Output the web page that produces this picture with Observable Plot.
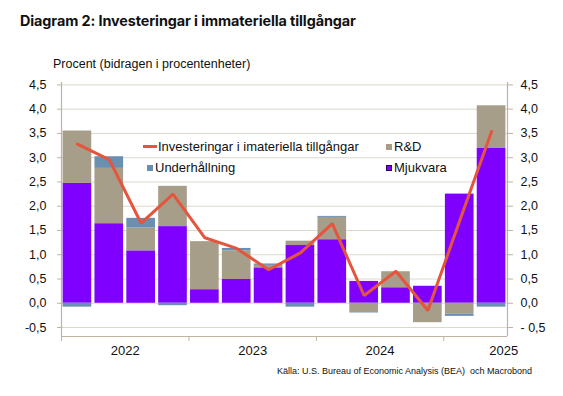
<!DOCTYPE html>
<html>
<head>
<meta charset="utf-8">
<script src="https://cdn.jsdelivr.net/npm/d3@7"></script>
<script src="https://cdn.jsdelivr.net/npm/@observablehq/plot@0.6"></script>
<style>
  body { margin: 0; background: #fff; }
  #wrap { position: relative; width: 563px; height: 396px; font-family: "Liberation Sans", Arial, sans-serif; color: #111; }
  #title { position: absolute; left: 20px; top: 12px; font: bold 14.4px "Inter", "Liberation Sans", sans-serif; letter-spacing: -0.1px; white-space: nowrap; }
  #sub { position: absolute; left: 53px; top: 57px; font-size: 12.5px; white-space: nowrap; }
  #chart { position: absolute; left: 0; top: 74px; }
  #caption { position: absolute; left: 277px; top: 366px; font-size: 9px; white-space: pre; }
  .lg { position: absolute; font-size: 13px; white-space: nowrap; line-height: 14px; }
  .sw { display: inline-block; width: 6px; height: 6px; margin-right: 2px; vertical-align: 1px; box-sizing: border-box; }
  .ln { display: inline-block; width: 14px; height: 3px; margin-right: 1px; vertical-align: 3px; }
</style>
</head>
<body>
<div id="wrap">
  <div id="title">Diagram 2: Investeringar i immateriella tillgångar</div>
  <div id="sub">Procent (bidragen i procentenheter)</div>
  <div id="chart"></div>
  <div id="legend"></div>
  <div id="caption">Källa: U.S. Bureau of Economic Analysis (BEA)  och Macrobond</div>
</div>
<script>
// Quarters 2022 Q1 – 2025 Q2 (start of quarter as fractional year)
const quarters = [2022, 2022.25, 2022.5, 2022.75, 2023, 2023.25, 2023.5, 2023.75, 2024, 2024.25, 2024.5, 2024.75, 2025, 2025.25];
const seriesNames = ["Mjukvara", "R&D", "Underhållning"];
const mjukvara      = [2.47, 1.64, 1.08, 1.58, 0.28, 0.49, 0.73, 1.19, 1.31, 0.45, 0.32, 0.35, 2.25, 3.20];
const rnd           = [1.08, 1.14, 0.47, 0.83, 0.99, 0.59, 0.05, 0.09, 0.46, -0.19, 0.33, -0.40, -0.22, 0.87];
const underhallning = [-0.08, 0.24, 0.20, -0.05, 0.00, 0.05, 0.03, -0.08, 0.02, -0.01, 0.00, 0.00, -0.05, -0.08];
const total         = [3.28, 2.96, 1.65, 2.25, 1.35, 1.13, 0.69, 1.04, 1.64, 0.16, 0.66, -0.15, 1.70, 3.54];
const lineName = "Investeringar i imateriella tillgångar";
const yTicks = [-0.5, 0, 0.5, 1, 1.5, 2, 2.5, 3, 3.5, 4, 4.5];
const yearTicks = [2022, 2023, 2024, 2025];
const yearLabels = ["2022", "2023", "2024", "2025"];
const yearLabelPos = [2022.5, 2023.5, 2024.5, 2025.47];

const colors = {"Mjukvara": "#7f00ff", "R&D": "#a69e88", "Underhållning": "#6b8fb0"};
const lineColor = "#e5553d";
const gridColor = "#dcd8cc";
const axisColor = "#bdb4a0";

const seriesValues = [mjukvara, rnd, underhallning];
const bars = [];
quarters.forEach((t, i) => {
  seriesNames.forEach((s, j) => {
    bars.push({t, t2: t + 0.25, s, v: seriesValues[j][i]});
  });
});
const lineData = quarters.map((t, i) => ({t: t + 0.125, v: total[i]}));

const fmt = d => (d < 0 ? "-" : "") + Math.abs(d).toFixed(1).replace(".", ",");
const fmtR = d => (d < 0 ? "- " : "") + Math.abs(d).toFixed(1).replace(".", ",");

const yDomain = [-0.685, 4.55];
const chart = Plot.plot({
  width: 563,
  height: 288,
  marginTop: 8,
  marginBottom: 26,
  marginLeft: 61,
  marginRight: 56,
  style: {fontFamily: "'Liberation Sans', Arial, sans-serif", fontSize: "12px", color: "#111", background: "transparent"},
  x: {type: "linear", domain: [2022, 2025.5]},
  y: {domain: yDomain},
  marks: [
    Plot.gridY(yTicks, {stroke: gridColor, strokeOpacity: 1, strokeWidth: 1}),
    Plot.rectY(bars, Plot.stackY({x1: "t", x2: "t2", y: "v", fill: d => colors[d.s], z: "s", order: seriesNames, insetLeft: 1.6, insetRight: 1.6})),
    Plot.lineY(lineData, {x: "t", y: "v", stroke: lineColor, strokeWidth: 3, strokeLinejoin: "miter"}),
    Plot.ruleX([2022, 2025.5], {stroke: axisColor, strokeWidth: 1.2}),
    Plot.ruleY([yDomain[0]], {stroke: axisColor, strokeWidth: 1.2}),
    Plot.axisY({anchor: "left", label: null, ticks: yTicks, tickFormat: fmt, tickSize: 4, tickPadding: 11, stroke: axisColor, fill: "#111", fontSize: 12.5}),
    Plot.axisY({anchor: "right", label: null, ticks: yTicks, tickFormat: fmtR, tickSize: 5, tickPadding: 8, stroke: axisColor, fill: "#111", fontSize: 12.5}),
    Plot.axisX({label: null, ticks: yearTicks, tickFormat: () => "", tickSize: 5, stroke: axisColor}),
    Plot.axisX({label: null, ticks: yearLabelPos, tickFormat: (d, i) => yearLabels[i], tickSize: 0, tickPadding: 9, fill: "#111", fontSize: 13})
  ]
});
document.getElementById("chart").appendChild(chart);

// Legend inside the plot area
const legend = document.getElementById("legend");
const items = [
  {name: lineName, kind: "line", color: lineColor, left: 143, top: 140},
  {name: "R&D", kind: "sw", color: colors["R&D"], left: 386, top: 140},
  {name: "Underhållning", kind: "sw", color: colors["Underhållning"], left: 147, top: 161},
  {name: "Mjukvara", kind: "sw", color: colors["Mjukvara"], left: 386, top: 161, border: "#2a0060"}
];
items.forEach(it => {
  const d = document.createElement("div");
  d.className = "lg";
  d.style.left = it.left + "px";
  d.style.top = it.top + "px";
  const s = document.createElement("span");
  s.className = it.kind === "line" ? "ln" : "sw";
  s.style.background = it.color;
  if (it.border) s.style.border = "1px solid " + it.border;
  d.appendChild(s);
  d.appendChild(document.createTextNode(it.name));
  legend.appendChild(d);
});
</script>
</body>
</html>
